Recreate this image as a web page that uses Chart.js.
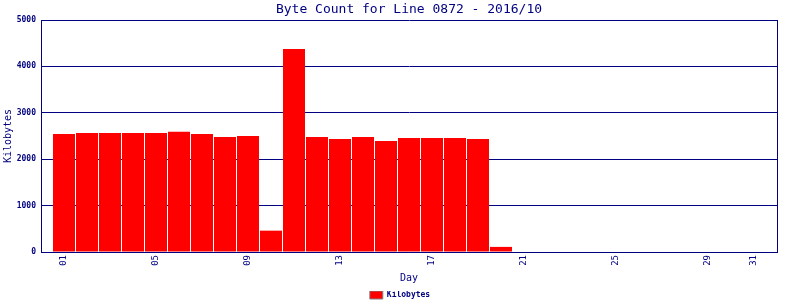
<!DOCTYPE html>
<html><head><meta charset="utf-8">
<script src="https://cdn.jsdelivr.net/npm/chart.js@4/dist/chart.umd.min.js"></script>
<style>html,body{margin:0;padding:0;background:#fff}#wrap{width:800px;height:300px}</style>
</head><body><div id="wrap"><canvas id="c" width="800" height="300"></canvas></div>
<script>
const chartTitle = 'Byte Count for Line 0872 - 2016/10';
const days = ['01','02','03','04','05','06','07','08','09','10','11','12','13','14','15','16','17','18','19','20','21','22','23','24','25','26','27','28','29','30','31'];
const kilobytes = [2545,2565,2565,2565,2565,2590,2545,2480,2500,460,4375,2480,2435,2480,2390,2455,2455,2455,2435,110,0,0,0,0,0,0,0,0,0,0,0];
const shownDayTicks = ['01','05','09','13','17','21','25','29','31'];
const yTicks = [0,1000,2000,3000,4000,5000];
const seriesName = 'Kilobytes';
const xTitle = 'Day';
const yTitle = 'Kilobytes';

const NAVY = '#000080';
const RED = '#ff0000';
const MONO = 'DejaVu Sans Mono';

const labels = [''].concat(days, ['']);
const values = [null].concat(kilobytes, [null]);

new Chart(document.getElementById('c'), {
  type: 'bar',
  data: {
    labels: labels,
    datasets: [{
      label: seriesName,
      data: values,
      backgroundColor: RED,
      borderWidth: 0,
      categoryPercentage: 1,
      barPercentage: 22/23
    }]
  },
  options: {
    responsive: false,
    animation: false,
    devicePixelRatio: 1,
    layout: { padding: { left: 0, right: 0, top: 0, bottom: -9 } },
    plugins: {
      title: {
        display: true,
        text: chartTitle,
        fullSize: false,
        color: NAVY,
        font: { family: MONO, size: 13, weight: 'normal', lineHeight: 1.2 },
        padding: { top: 2, bottom: 2.4 }
      },
      legend: {
        display: true,
        position: 'bottom',
        labels: {
          boxWidth: 13,
          boxHeight: 8,
          padding: 0,
          color: NAVY,
          font: { family: MONO, size: 8, weight: 'bold' },
          generateLabels: (chart) => chart.data.datasets.map((ds, i) => ({
            text: ds.label,
            fillStyle: RED,
            strokeStyle: '#808080',
            lineWidth: 1,
            fontColor: NAVY,
            hidden: false,
            datasetIndex: i
          }))
        }
      },
      tooltip: { enabled: false }
    },
    scales: {
      x: {
        type: 'category',
        offset: false,
        grid: { display: false, drawTicks: false },
        border: { display: true, color: NAVY, width: 1 },
        ticks: {
          autoSkip: false,
          minRotation: 90,
          maxRotation: 90,
          padding: 3,
          color: NAVY,
          font: { family: MONO, size: 9 },
          callback: function(v, i) {
            const l = this.getLabelForValue(v);
            return shownDayTicks.includes(l) ? l : '';
          }
        },
        title: {
          display: true,
          text: xTitle,
          color: NAVY,
          font: { family: MONO, size: 10, lineHeight: 1.2 },
          padding: { top: 0, bottom: 7 }
        },
        afterFit: (s) => { s.height = 39; }
      },
      y: {
        type: 'linear',
        position: 'left',
        min: 0,
        max: 5000,
        afterBuildTicks: (s) => { s.ticks = yTicks.map(v => ({ value: v })); },
        grid: { display: true, color: NAVY, lineWidth: 1, drawTicks: false },
        border: { display: true, color: NAVY, width: 1 },
        ticks: {
          padding: 5,
          color: NAVY,
          font: { family: MONO, size: 8, weight: 'bold' },
          callback: (v) => String(v)
        },
        title: {
          display: true,
          text: yTitle,
          color: NAVY,
          font: { family: MONO, size: 10, lineHeight: 1.2 },
          padding: { top: 2, bottom: 0 }
        },
        afterFit: (s) => { s.width = 41; }
      },
      y2: {
        type: 'linear',
        position: 'right',
        min: 0,
        max: 5000,
        grid: { display: false, drawOnChartArea: false, drawTicks: false },
        border: { display: true, color: NAVY, width: 1 },
        ticks: { display: false },
        afterFit: (s) => { s.width = 23; }
      }
    }
  }
});
</script>
</body></html>
